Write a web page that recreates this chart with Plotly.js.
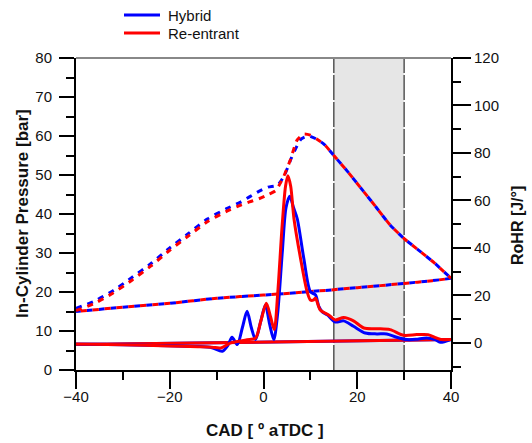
<!DOCTYPE html>
<html><head><meta charset="utf-8">
<script src="https://cdn.plot.ly/plotly-3.0.1.min.js"></script>
<style>html,body{margin:0;padding:0;background:#fff}#chart{width:532px;height:443px}</style>
</head><body><div id="chart"></div>
<script>
// In-cylinder pressure (bar), compression/expansion branch
const hybridPressureCad = [-40,-36,-32,-28,-24,-20,-16,-12,-8,-5,-3,-1,1,3,4.5,6,8,9.6,11.5,13,15,18,21,24,27,30,33,36.5,40];
const hybridPressure    = [15.8,17.7,20.4,23.8,27.3,31.3,35,38.7,41.3,43,44.4,45.8,46.9,47.4,50,54.5,59.2,60,59.1,57.8,55,50.8,46.3,41.8,37.2,33.7,30.8,27.4,23.5];
const reentPressureCad  = [-40,-36,-32,-28,-24,-20,-16,-12,-8,-5,-3,-1,1,2.6,4.3,5.7,7.2,8.6,10,11.5,13,15,18,21,24,27,30,33,36.5,40];
const reentPressure     = [15.2,17.1,19.8,23.1,26.7,30.7,34.4,38.0,40.6,42.2,43.1,43.9,45,46,49.6,53.8,59,60.5,60.2,59.1,57.8,55,50.8,46.3,41.8,37.2,33.7,30.8,27.4,23.5];
// pressure return branch (40 -> -40)
const pressureReturnCad = [40,36,30,20,10,0,-10,-20,-30,-40];
const pressureReturn    = [23.5,22.9,22.2,21.1,20.1,19.2,18.4,17.1,16.1,15.0];

// Rate of heat release (J/deg)
const hybridRohrCad = [-40,-30,-20,-14,-11,-8.8,-7.6,-6.7,-5.6,-4.5,-3.5,-2.6,-1.7,-0.6,0.4,1.3,2.2,3,4,4.8,5.6,6.4,7.2,8.6,10,11.1,11.8,12.6,13.6,15.3,17.1,19.2,21.7,24.2,26.3,28.4,30.6,32.5,34.8,36.6,37.7,40];
const hybridRohr    = [-0.5,-0.8,-1.2,-1.5,-2,-3.5,-1,2.4,-0.7,6.5,13.3,6.5,1.4,9,16,8,1.4,12,38,57,61.8,57,52.3,35.6,21.6,20.2,15.4,13,11.8,8.8,9.3,7,4.2,3.8,3.8,2.4,1.4,1.5,2.1,1.4,0.3,1.4];
const reentRohrCad  = [-40,-30,-20,-14,-11,-9.1,-7,-5,-3.5,-1.7,-0.6,0.6,1.5,2.3,3,4,4.7,5.2,5.8,6.5,7.9,9.3,10,10.6,11.1,12.1,13.9,15.3,17.1,19.2,21.4,24.2,27,29.9,32.7,35.1,36.9,38,40];
const reentRohr     = [-0.5,-0.8,-1.3,-1.6,-1.8,-2.1,0,0.8,1.4,2,9,16.7,11,5.6,20,50,66,70.4,66,52.3,35.6,21.6,18.1,18,18.8,13.9,11.8,9.7,10.7,9.3,6.3,6,5.6,3.2,3.5,3.5,2.1,1.4,1.4];
// RoHR return line (40 -> -40)
const rohrReturnCad = [40,-40];
const rohrReturn    = [1.4,-0.7];

const seriesNames = ['Hybrid','Re-entrant'];
const BLUE = '#0000ff', RED = '#ff0000';
const FAMILY = 'Liberation Sans, Arial, sans-serif';

const traces = [
  {x: pressureReturnCad, y: pressureReturn, mode:'lines', showlegend:false, hoverinfo:'skip',
   line:{color:BLUE, width:3, dash:'6px,6px', shape:'spline', smoothing:0.6}},
  {x: pressureReturnCad, y: pressureReturn, mode:'lines', showlegend:false, hoverinfo:'skip',
   line:{color:RED, width:3, dash:'0px,6px,6px,0px', shape:'spline', smoothing:0.6}},
  {x: hybridPressureCad, y: hybridPressure, mode:'lines', showlegend:false, hoverinfo:'skip',
   line:{color:BLUE, width:3, dash:'6px,6px', shape:'spline', smoothing:0.6}},
  {x: reentPressureCad, y: reentPressure, mode:'lines', showlegend:false, hoverinfo:'skip',
   line:{color:RED, width:3, dash:'6px,6px', shape:'spline', smoothing:0.6}},
  {x: rohrReturnCad, y: rohrReturn, yaxis:'y2', mode:'lines', showlegend:false, hoverinfo:'skip',
   line:{color:BLUE, width:3}},
  {x: rohrReturnCad, y: rohrReturn, yaxis:'y2', mode:'lines', showlegend:false, hoverinfo:'skip',
   line:{color:RED, width:3}},
  {x: hybridRohrCad, y: hybridRohr, yaxis:'y2', mode:'lines', name: seriesNames[0], showlegend:false,
   line:{color:BLUE, width:3, shape:'spline', smoothing:0.8}},
  {x: reentRohrCad, y: reentRohr, yaxis:'y2', mode:'lines', name: seriesNames[1], showlegend:false,
   line:{color:RED, width:3, shape:'spline', smoothing:0.8}}
];

const tickFont = {family:FAMILY, size:15, color:'#111'};
const titleFont = {family:FAMILY, size:17, color:'#111', weight:'bold'};

// plot area in px: x 76..451, y 58..370
const PL = 76, PW = 375, PT = 58, PH = 312;
const px2x = p => (p - PL) / PW;
const px2y = p => (PT + PH - p) / PH;

const legendColors = [BLUE, RED];
const legendRowsPx = [15, 33];
const legendShapes = legendRowsPx.map((yy, i) => ({type:'line', xref:'paper', yref:'paper',
  x0:px2x(124), x1:px2x(160), y0:px2y(yy), y1:px2y(yy), line:{color:legendColors[i], width:3}}));
const legendLabels = legendRowsPx.map((yy, i) => ({xref:'paper', yref:'paper', x:px2x(166), y:px2y(yy),
  xanchor:'left', yanchor:'middle', text:seriesNames[i], showarrow:false,
  font:{family:FAMILY, size:15, color:'#111'}}));

const layout = {
  width:532, height:443,
  margin:{l:76, r:81, t:58, b:73, autoexpand:false},
  paper_bgcolor:'#fff', plot_bgcolor:'#fff',
  showlegend:false,
  xaxis:{range:[-40,40], tickvals:[-40,-20,0,20,40], ticks:'outside', ticklen:17, tickwidth:2, tickcolor:'#000',
         showline:true, linewidth:2, linecolor:'#000', showgrid:false, zeroline:false, tickfont:tickFont,
         ticklabelstandoff:-5,
         minor:{tickvals:[-30,-10,10,30], ticks:'outside', ticklen:8, tickwidth:2, tickcolor:'#000', showgrid:false}},
  yaxis:{range:[0,80], dtick:10, ticks:'outside', ticklen:15, tickwidth:2, tickcolor:'#000',
         showline:true, linewidth:2, linecolor:'#000', showgrid:false, zeroline:false, tickfont:tickFont,
         ticklabelstandoff:4,
         minor:{dtick:5, ticks:'outside', ticklen:8, tickwidth:2, tickcolor:'#000', showgrid:false}},
  yaxis2:{range:[-11.4,120], overlaying:'y', side:'right', tickvals:[0,20,40,60,80,100,120],
          ticks:'outside', ticklen:18, tickwidth:2, tickcolor:'#000',
          showline:true, linewidth:2, linecolor:'#000', showgrid:false, zeroline:false, tickfont:tickFont,
          minor:{tickvals:[-10,10,30,50,70,90,110], ticks:'outside', ticklen:8, tickwidth:2, tickcolor:'#000', showgrid:false}},
  annotations:[
    {xref:'paper', yref:'paper', x:px2x(265), y:px2y(430), xanchor:'center', yanchor:'middle', showarrow:false,
     text:'CAD [ º aTDC ]', font:titleFont},
    {xref:'paper', yref:'paper', x:px2x(22), y:0.5, xanchor:'center', yanchor:'middle', showarrow:false, textangle:-90,
     text:'In-Cylinder Pressure [bar]', font:titleFont},
    {xref:'paper', yref:'paper', x:px2x(517), y:px2y(226), xanchor:'center', yanchor:'middle', showarrow:false, textangle:-90,
     text:'RoHR [J/°]', font:{family:FAMILY, size:16, color:'#111', weight:'bold'}}
  ].concat(legendLabels),
  shapes:[
    {type:'rect', xref:'x', yref:'paper', x0:15, x1:30, y0:0, y1:1, fillcolor:'#e6e6e6', line:{width:0}, layer:'below'},
    {type:'line', xref:'x', yref:'paper', x0:15, x1:15, y0:0, y1:1, line:{color:'#555', width:1.5, dash:'25px,2px'}, layer:'below'},
    {type:'line', xref:'x', yref:'paper', x0:30, x1:30, y0:0, y1:1, line:{color:'#555', width:1.5, dash:'25px,2px'}, layer:'below'},
    {type:'line', xref:'paper', yref:'paper', x0:0, x1:1, y0:1, y1:1, line:{color:'#888', width:2}}
  ].concat(legendShapes)
};

Plotly.newPlot('chart', traces, layout, {displayModeBar:false, staticPlot:true});
</script>
</body></html>
